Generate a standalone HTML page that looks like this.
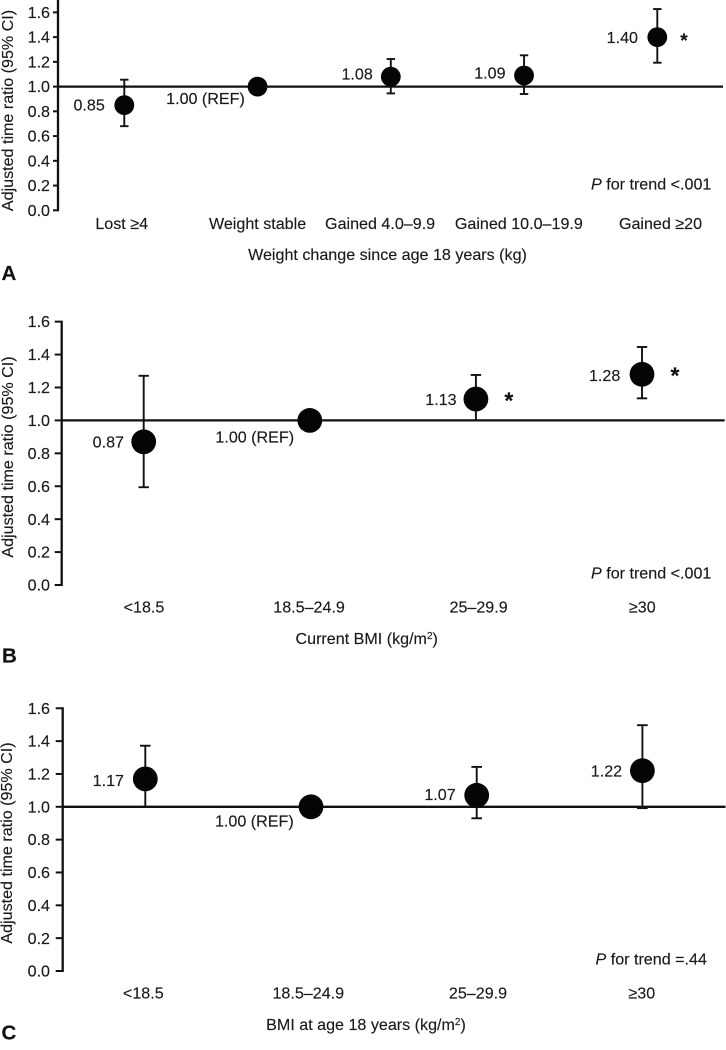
<!DOCTYPE html>
<html lang="en">
<head>
<meta charset="utf-8">
<title>Adjusted time ratio by weight change and BMI</title>
<style>
html,body{margin:0;padding:0;background:#fff;}
body{width:726px;height:1050px;overflow:hidden;}
svg{display:block;}
text{font-family:"Liberation Sans",Arial,sans-serif;font-size:16.1px;fill:#1a1a1a;stroke:#1a1a1a;stroke-width:0.15px;}
.letter{font-weight:bold;font-size:20.5px;fill:#111;}
</style>
</head>
<body>
<svg id="figure" xmlns="http://www.w3.org/2000/svg" width="726" height="1050" viewBox="0 0 726 1050">
  <rect x="0" y="0" width="726" height="1050" fill="#fff"/>
  <g id="panel-a">
    <text transform="translate(13,110.5) rotate(-90)" text-anchor="middle">Adjusted time ratio (95% CI)</text>
    <text x="387.5" y="260" text-anchor="middle">Weight change since age 18 years (kg)</text>
    <text x="591" y="189.5"><tspan font-style="italic">P</tspan> for trend &lt;.001</text>
    <text class="letter" x="1.5" y="280">A</text>
  </g>
  <g id="panel-b">
    <text transform="translate(13,457) rotate(-90)" text-anchor="middle">Adjusted time ratio (95% CI)</text>
    <text x="366.7" y="644" text-anchor="middle">Current BMI (kg/m<tspan font-size="10" dy="-5">2</tspan><tspan dy="5">)</tspan></text>
    <text x="591" y="578.5"><tspan font-style="italic">P</tspan> for trend &lt;.001</text>
    <text class="letter" x="2" y="662.5">B</text>
  </g>
  <g id="panel-c">
    <text transform="translate(12,843) rotate(-90)" text-anchor="middle">Adjusted time ratio (95% CI)</text>
    <text x="366" y="1030" text-anchor="middle">BMI at age 18 years (kg/m<tspan font-size="10" dy="-5">2</tspan><tspan dy="5">)</tspan></text>
    <text x="595.5" y="964.5"><tspan font-style="italic">P</tspan> for trend =.44</text>
    <text class="letter" x="1.5" y="1039.5">C</text>
  </g>
</svg>
<script>
// ---- chart data ----
const yTickValues = [0, 0.2, 0.4, 0.6, 0.8, 1.0, 1.2, 1.4, 1.6];
const referenceValue = 1.0;

const categoriesA = ['Lost ≥4', 'Weight stable', 'Gained 4.0–9.9', 'Gained 10.0–19.9', 'Gained ≥20'];
const valuesA = [0.85, 1.00, 1.08, 1.09, 1.40];
const lowerA = [0.68, null, 0.945, 0.94, 1.193];
const upperA = [1.056, null, 1.223, 1.253, 1.627];
const significantA = [false, false, false, false, true];

const categoriesB = ['<18.5', '18.5–24.9', '25–29.9', '≥30'];
const valuesB = [0.87, 1.00, 1.13, 1.28];
const lowerB = [0.594, null, 1.0, 1.134];
const upperB = [1.271, null, 1.276, 1.446];
const significantB = [false, false, true, true];

const categoriesC = ['<18.5', '18.5–24.9', '25–29.9', '≥30'];
const valuesC = [1.17, 1.00, 1.07, 1.22];
const lowerC = [1.0, null, 0.93, 0.992];
const upperC = [1.372, null, 1.243, 1.497];
const significantC = [false, false, false, false];

// ---- layout (separate from data) ----
const layouts = [
  { key: 'a', cats: categoriesA, vals: valuesA, lo: lowerA, hi: upperA, sig: significantA,
    axisX: 58, y0: 210.3, pxPerUnit: 123.7, axisTop: 0, right: 723, firstX: 124.3, stepX: 133.25,
    r: 9.9, cap: 4.2, tickLen: 5, catBase: 229, catShift: [-2.6, 0, -10.7, -5.2, 3.2],
    labelGap: [19.5, 12.7, 18, 18.5, 19.3], labelDrop: [5.3, 17.6, 3, 3, 6], refIndex: 1,
    starDx: 26.7, starSize: 19, starLift: 1 },
  { key: 'b', cats: categoriesB, vals: valuesB, lo: lowerB, hi: upperB, sig: significantB,
    axisX: 61.7, y0: 585, pxPerUnit: 164.6, axisTop: 321.7, right: 724.7, firstX: 143.7, stepX: 166.1,
    r: 12.4, cap: 5.2, tickLen: 7, catBase: 612.3, catShift: [0.3, -0.7, 2.7, 0.3],
    labelGap: [19.7, 15.7, 19.3, 21.7], labelDrop: [5.7, 22, 6, 6.5], refIndex: 1,
    starDx: 33, starSize: 23, starLift: 3.5 },
  { key: 'c', cats: categoriesC, vals: valuesC, lo: lowerC, hi: upperC, sig: significantC,
    axisX: 62.7, y0: 971, pxPerUnit: 164.2, axisTop: 708.3, right: 725.5, firstX: 145.3, stepX: 165.7,
    r: 12.4, cap: 5.3, tickLen: 7, catBase: 998.3, catShift: [-2, -2.7, 1.3, -0.6],
    labelGap: [21.3, 17.3, 21, 20.3], labelDrop: [7, 19.5, 4.8, 5.7], refIndex: 1,
    starDx: 33, starSize: 23, starLift: 3.5 }
];

const SVG_NS = 'http://www.w3.org/2000/svg';
const INK = '#111111';

function make(tag, attrs, parent) {
  const el = document.createElementNS(SVG_NS, tag);
  Object.keys(attrs).forEach(function (k) { el.setAttribute(k, attrs[k]); });
  parent.appendChild(el);
  return el;
}

function drawPanel(p) {
  const group = document.getElementById('panel-' + p.key);
  const yScale = function (v) { return p.y0 - v * p.pxPerUnit; };
  const xScale = function (i) { return p.firstX + i * p.stepX; };

  // y axis line
  const axis = make('line', { x1: p.axisX, x2: p.axisX, y1: p.axisTop - 1, y2: p.y0 + 1, stroke: INK, 'stroke-width': 2.3 }, group);
  
  

  // ticks
  yTickValues.forEach(function (v) {
    const tick = make('line', { x1: p.axisX - p.tickLen, x2: p.axisX, y1: yScale(v), y2: yScale(v), stroke: INK, 'stroke-width': 2 }, group);
    
    
    const label = make('text', { x: 50, y: yScale(v) + 5.6, 'text-anchor': 'end' }, group);
    label.textContent = v.toFixed(1);
    
    
  });

  // reference line
  const ref = make('line', { x1: p.axisX, x2: p.right, y1: yScale(referenceValue), y2: yScale(referenceValue), stroke: INK, 'stroke-width': 2.3 }, group);
  
  

  // categories + marks
  p.cats.forEach(function (cat, i) {
    const cx = xScale(i);
    const cy = yScale(p.vals[i]);

    const catLabel = make('text', { x: cx + p.catShift[i], y: p.catBase, 'text-anchor': 'middle' }, group);
    catLabel.textContent = cat;
    
    

    if (p.lo[i] !== null && p.hi[i] !== null) {
      const yLo = yScale(p.lo[i]);
      const yHi = yScale(p.hi[i]);
      const whisker = make('line', { x1: cx, x2: cx, y1: yLo, y2: yHi, stroke: INK, 'stroke-width': 1.9 }, group);
      
      
      const capTop = make('line', { x1: cx - p.cap, x2: cx + p.cap, y1: yHi, y2: yHi, stroke: INK, 'stroke-width': 1.9 }, group);
      
      
      const capBottom = make('line', { x1: cx - p.cap, x2: cx + p.cap, y1: yLo, y2: yLo, stroke: INK, 'stroke-width': 1.9 }, group);
      
      
    }

    const dot = make('circle', { cx: cx, cy: cy, r: p.r, fill: '#050505' }, group);
    
    

    const valueLabel = make('text', { x: cx - p.labelGap[i], y: cy + p.labelDrop[i], 'text-anchor': 'end' }, group);
    valueLabel.textContent = p.vals[i].toFixed(2) + (i === p.refIndex ? ' (REF)' : '');
    
    

    if (p.sig[i]) {
      const star = make('text', { x: cx + p.starDx, y: cy + p.starSize * 0.56 - p.starLift, 'text-anchor': 'middle', 'font-weight': 'bold', style: 'font-size:' + p.starSize + 'px;fill:#111' }, group);
      star.textContent = '*';
      
      
    }
  });
}

layouts.forEach(drawPanel);
</script>
</body>
</html>
